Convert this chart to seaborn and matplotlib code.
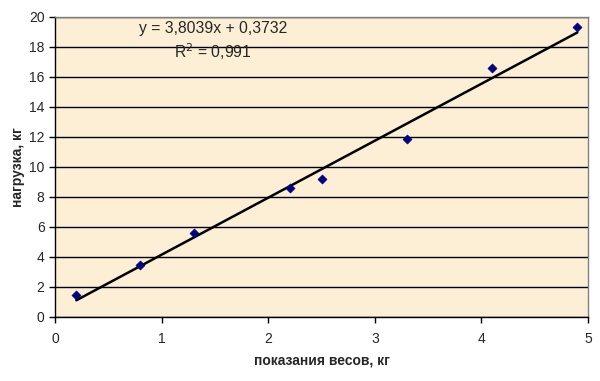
import numpy as np
import pandas as pd
import matplotlib
matplotlib.use("Agg")
import matplotlib.pyplot as plt
import seaborn as sns

# readings of the scale vs applied load
scale_kg = [0.2, 0.8, 1.3, 2.2, 2.5, 3.3, 4.1, 4.9]
load_kg = [1.45, 3.45, 5.6, 8.6, 9.2, 11.9, 16.6, 19.35]
x_ticks = [0, 1, 2, 3, 4, 5]
y_ticks = [0, 2, 4, 6, 8, 10, 12, 14, 16, 18, 20]
eq_text = "y = 3,8039x + 0,3732"
r2_text = "R$^2$ = 0,991"

df = pd.DataFrame({"x": scale_kg, "y": load_kg})

sns.set_style("white")
plt.rcParams["font.family"] = ["Liberation Sans", "DejaVu Sans"]

fig = plt.figure(figsize=(6.0, 3.81), dpi=100)
ax = fig.add_axes([55 / 600, 1 - 317 / 381, 533 / 600, 300 / 381])
ax.set_facecolor("#FCEFD5")

# trend line
sns.regplot(data=df, x="x", y="y", scatter=False, ci=None, ax=ax,
            line_kws={"color": "black", "lw": 1.8})
sns.scatterplot(data=df, x="x", y="y", ax=ax, marker="D", s=22,
                color="#000080", edgecolor="#000080", zorder=5)

ax.set_xlim(0, 5)
ax.set_ylim(0, 20)
ax.set_xticks(x_ticks)
ax.set_yticks(y_ticks)
ax.yaxis.grid(True, color="black", lw=1)
ax.xaxis.grid(False)
ax.set_axisbelow(True)

for side in ["top", "right"]:
    ax.spines[side].set_color("#808080")
    ax.spines[side].set_linewidth(1)
for side in ["left", "bottom"]:
    ax.spines[side].set_color("black")
    ax.spines[side].set_linewidth(1)

ax.tick_params(axis="both", which="both", direction="out", length=4, width=1,
               color="black", labelsize=10, bottom=True, left=True)
ax.tick_params(axis="x", pad=7)

ax.set_xlabel("показания весов, кг", fontsize=10, fontweight="bold", labelpad=5)
ax.set_ylabel("нагрузка, кг", fontsize=10, fontweight="bold", labelpad=3)

fig.text(213 / 600, 1 - 29 / 381, eq_text, ha="center", va="center", fontsize=11.3)
fig.text(213 / 600, 1 - 52 / 381, r2_text, ha="center", va="center", fontsize=11.3)

fig.savefig("out.png", dpi=100, facecolor="white")
